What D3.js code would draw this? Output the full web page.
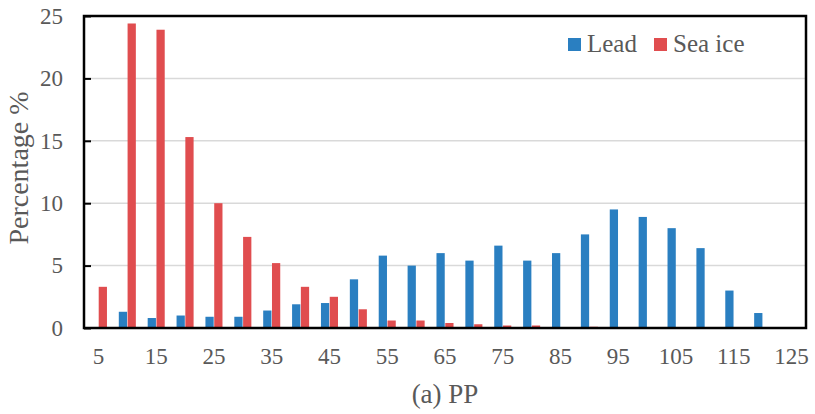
<!DOCTYPE html>
<html>
<head>
<meta charset="utf-8">
<script src="https://cdn.jsdelivr.net/npm/d3@7"></script>
<style>
  body { margin: 0; background: #fff; }
  svg text { font-family: "Liberation Serif", "Times New Roman", Times, Tinos, "Nimbus Roman", "DejaVu Serif", serif; fill: #595959; }
</style>
</head>
<body>
<div id="chart"></div>
<script>
// category centres on the x axis
const bins = [5, 10, 15, 20, 25, 30, 35, 40, 45, 50, 55, 60, 65, 70, 75, 80, 85, 90, 95, 100, 105, 110, 115, 120, 125];
const leadValues = [0, 1.3, 0.8, 1.0, 0.9, 0.9, 1.4, 1.9, 2.0, 3.9, 5.8, 5.0, 6.0, 5.4, 6.6, 5.4, 6.0, 7.5, 9.5, 8.9, 8.0, 6.4, 3.0, 1.2, 0];
const seaIceValues = [3.3, 24.4, 23.9, 15.3, 10.0, 7.3, 5.2, 3.3, 2.5, 1.5, 0.6, 0.6, 0.4, 0.3, 0.2, 0.2, 0.05, 0.1, 0.05, 0, 0, 0, 0, 0, 0];
const xTickLabels = [5, 15, 25, 35, 45, 55, 65, 75, 85, 95, 105, 115, 125];
const yTicks = [0, 5, 10, 15, 20, 25];
const seriesNames = ["Lead", "Sea ice"];
const colors = {"Lead": "#2a7fc1", "Sea ice": "#e04d4f"};

const W = 815, H = 414;
const margin = {top: 16, right: 9, bottom: 86, left: 84};
const width = W - margin.left - margin.right;
const height = H - margin.top - margin.bottom;

const svg = d3.select("#chart").append("svg")
    .attr("width", W)
    .attr("height", H);

const g = svg.append("g")
    .attr("transform", "translate(" + margin.left + "," + margin.top + ")");

const x0 = d3.scaleBand()
    .domain(bins)
    .range([0, width])
    .paddingInner(0.41)
    .paddingOuter(0.205);

const x1 = d3.scaleBand()
    .domain(seriesNames)
    .range([0, x0.bandwidth()])
    .paddingInner(0.06);

const y = d3.scaleLinear()
    .domain([0, 25])
    .range([height, 0]);

// gridlines
g.append("g")
    .selectAll("line")
    .data(yTicks.filter(t => t > 0 && t < 25))
    .enter().append("line")
    .attr("x1", 0)
    .attr("x2", width)
    .attr("y1", d => y(d))
    .attr("y2", d => y(d))
    .style("stroke", "#d9d9d9")
    .style("stroke-width", 1.5);

const rows = bins.map((b, i) => ({bin: b, "Lead": leadValues[i], "Sea ice": seaIceValues[i]}));

// bars
g.append("g")
    .selectAll("g")
    .data(rows)
    .enter().append("g")
    .attr("transform", d => "translate(" + x0(d.bin) + ",0)")
    .selectAll("rect")
    .data(d => seriesNames.map(k => ({key: k, value: d[k]})))
    .enter().append("rect")
    .attr("x", d => x1(d.key))
    .attr("width", x1.bandwidth())
    .attr("y", d => y(d.value))
    .attr("height", d => height - y(d.value))
    .style("fill", d => colors[d.key]);

// y axis
const yAxis = g.append("g")
    .attr("font-family", null)
    .call(d3.axisLeft(y).tickValues(yTicks).tickSizeInner(-7).tickSizeOuter(0).tickPadding(21));
yAxis.attr("font-family", null);
yAxis.select(".domain").remove();
yAxis.selectAll("line").style("stroke", "#000").style("stroke-width", 2);
yAxis.selectAll("text").style("font-size", "23px");

// x axis
const xAxis = g.append("g")
    .attr("transform", "translate(0," + height + ")")
    .call(d3.axisBottom(x0).tickValues(xTickLabels).tickSize(0).tickPadding(20));
xAxis.attr("font-family", null);
xAxis.select(".domain").remove();
xAxis.selectAll("text").style("font-size", "23px");

// frame
g.append("rect")
    .attr("x", 0)
    .attr("y", 0)
    .attr("width", width)
    .attr("height", height)
    .style("fill", "none")
    .style("stroke", "#000")
    .style("stroke-width", 2.5);

// axis title
svg.append("text")
    .attr("transform", "translate(28," + (margin.top + height / 2 - 4) + ") rotate(-90)")
    .attr("text-anchor", "middle")
    .style("font-size", "28px")
    .text("Percentage %");

svg.append("text")
    .attr("x", margin.left + width / 2)
    .attr("y", 403)
    .attr("text-anchor", "middle")
    .style("font-size", "27px")
    .text("(a) PP");

// legend
const legendX = [568, 654];
const legend = svg.append("g")
    .selectAll("g")
    .data(seriesNames)
    .enter().append("g")
    .attr("transform", (d, i) => "translate(" + legendX[i] + ",38)");
legend.append("rect")
    .attr("width", 13)
    .attr("height", 13)
    .style("fill", d => colors[d]);
legend.append("text")
    .attr("x", 19)
    .attr("y", 14)
    .style("font-size", "25px")
    .text(d => d);
</script>
</body>
</html>
